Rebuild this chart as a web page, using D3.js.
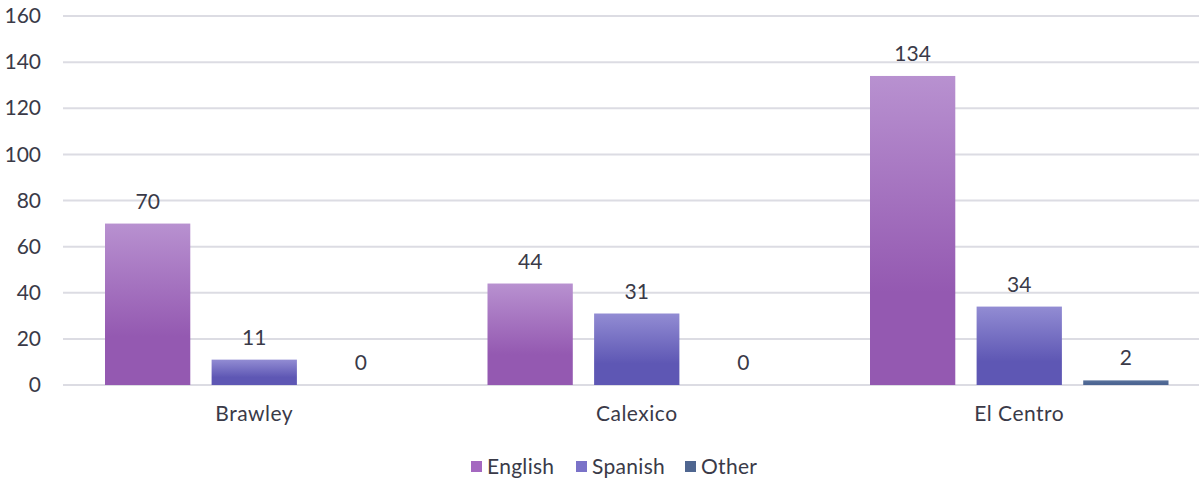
<!DOCTYPE html>
<html>
<head>
<meta charset="utf-8">
<script src="https://cdn.jsdelivr.net/npm/d3@7"></script>
<style>
  body { margin: 0; background: #fff; }
  svg { display: block; font-family: "Lato", "Open Sans", sans-serif; }
</style>
</head>
<body>
<svg id="chart" width="1199" height="483"></svg>
<script>
const cities = ["Brawley", "Calexico", "El Centro"];
const languages = ["English", "Spanish", "Other"];
const english = [70, 44, 134];
const spanish = [11, 31, 34];
const other = [0, 0, 2];
const yTicks = [0, 20, 40, 60, 80, 100, 120, 140, 160];

const seriesValues = { English: english, Spanish: spanish, Other: other };
const data = cities.map((c, i) => ({
  city: c,
  values: languages.map(l => ({ key: l, value: seriesValues[l][i] }))
}));

const svg = d3.select("#chart");
const margin = { top: 16, right: -11.5, bottom: 98, left: 63 };
const width = 1199 - margin.left - margin.right;
const height = 483 - margin.top - margin.bottom;
const textColor = "#3a3a48";
const fontSize = "21px";

// gradients for bars
const defs = svg.append("defs");
const grads = {
  English: ["#b891d0", "#9459b1"],
  Spanish: ["#928cd3", "#5e57b4"],
  Other: ["#5a729c", "#4c6592"]
};
languages.forEach(l => {
  const g = defs.append("linearGradient")
    .attr("id", "grad-" + l)
    .attr("x1", 0).attr("y1", 0).attr("x2", 0).attr("y2", 1);
  g.append("stop").attr("offset", "0%").attr("stop-color", grads[l][0]);
  g.append("stop").attr("offset", "70%").attr("stop-color", grads[l][1]);
  g.append("stop").attr("offset", "100%").attr("stop-color", grads[l][1]);
});
const swatch = { English: "#a468c0", Spanish: "#7a72c8", Other: "#4f6690" };

// title sits above the visible area in the reference, only descenders show
svg.append("text")
  .attr("x", 640).attr("y", -3)
  .attr("text-anchor", "middle")
  .style("font-size", "20px")
  .style("fill", "#595959")
  .text("Primary Language");

const x0 = d3.scaleBand()
  .domain(cities)
  .range([margin.left, margin.left + width])
  .paddingInner(0)
  .paddingOuter(0);

const x1 = d3.scaleBand()
  .domain(languages)
  .range([42, x0.bandwidth() - 42])
  .paddingInner(0.2);

const y = d3.scaleLinear()
  .domain([0, 160])
  .range([margin.top + height, margin.top]);

// grid
svg.append("g")
  .selectAll("line")
  .data(yTicks)
  .enter().append("line")
  .attr("x1", margin.left)
  .attr("x2", 1199)
  .attr("y1", d => y(d))
  .attr("y2", d => y(d))
  .attr("stroke", "#dcdce3")
  .attr("stroke-width", 2);

// y axis
const yAxis = svg.append("g")
  .attr("transform", `translate(${margin.left - 22},0)`)
  .call(d3.axisLeft(y).tickValues(yTicks).tickSize(0).tickPadding(0));
yAxis.select(".domain").remove();
yAxis.selectAll("text")
  .style("font-size", fontSize)
  .style("font-family", "Lato, sans-serif")
  .style("fill", textColor);

// x axis
const xAxis = svg.append("g")
  .attr("transform", `translate(0,${y(0)})`)
  .call(d3.axisBottom(x0).tickSize(0).tickPadding(21));
xAxis.select(".domain").remove();
xAxis.selectAll("text")
  .style("font-size", fontSize)
  .style("font-family", "Lato, sans-serif")
  .style("letter-spacing", "0.5px")
  .style("fill", textColor);

// bars
const groups = svg.selectAll(".city")
  .data(data)
  .enter().append("g")
  .attr("class", "city")
  .attr("transform", d => `translate(${x0(d.city)},0)`);

groups.selectAll("rect")
  .data(d => d.values)
  .enter().append("rect")
  .attr("x", d => x1(d.key))
  .attr("y", d => y(d.value))
  .attr("width", x1.bandwidth())
  .attr("height", d => y(0) - y(d.value))
  .attr("fill", d => `url(#grad-${d.key})`);

groups.selectAll("text")
  .data(d => d.values)
  .enter().append("text")
  .attr("x", d => x1(d.key) + x1.bandwidth() / 2)
  .attr("y", d => y(d.value) - 15)
  .attr("text-anchor", "middle")
  .style("font-size", fontSize)
  .style("fill", textColor)
  .text(d => d.value);

// legend
const legendPos = [471, 576, 685];
const legend = svg.append("g")
  .selectAll("g")
  .data(languages)
  .enter().append("g")
  .attr("transform", (d, i) => `translate(${legendPos[i]},461)`);

legend.append("rect")
  .attr("width", 11).attr("height", 11)
  .attr("fill", d => swatch[d]);

legend.append("text")
  .attr("x", 16).attr("y", 13)
  .style("font-size", fontSize)
  .style("letter-spacing", "0.3px")
  .style("fill", textColor)
  .text(d => d);
</script>
</body>
</html>
